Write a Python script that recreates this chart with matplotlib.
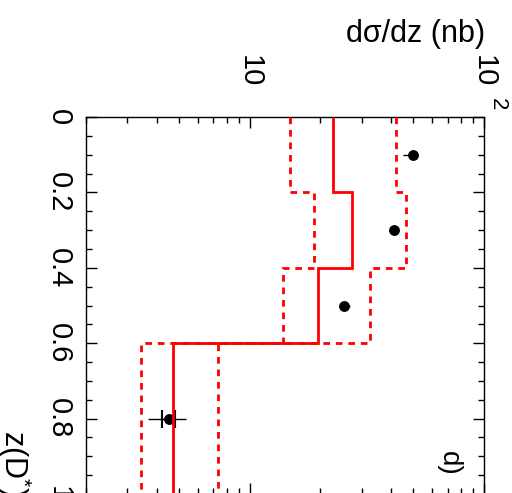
import matplotlib
matplotlib.use('Agg')
import matplotlib.pyplot as plt
from matplotlib.ticker import FixedLocator, LogLocator, NullFormatter, MultipleLocator

plt.rcParams['font.family'] = ['Liberation Sans', 'DejaVu Sans']
plt.rcParams['mathtext.fontset'] = 'custom'
plt.rcParams['mathtext.rm'] = 'Liberation Sans'
plt.rcParams['mathtext.it'] = 'Liberation Sans:italic'

# bins in z(D*)
z_edges = [0.0, 0.2, 0.4, 0.6, 1.0]
theory = [22.6, 27.3, 19.6, 4.7]
theory_lo = [14.9, 18.8, 13.8, 3.44]
theory_hi = [42.1, 46.6, 32.7, 7.33]

# measured points
z_data = [0.1, 0.3, 0.5, 0.8]
xsec = [49.6, 41.4, 25.2, 4.51]
tot_lo = [4.7, 1.0, 1.0, 0.83]
tot_hi = [1.4, 1.0, 1.6, 0.82]
stat_lo = [1.2, 0.8, 0.6, 0.28]
stat_hi = [1.2, 0.8, 0.6, 0.29]

z_ticks = [0, 0.2, 0.4, 0.6, 0.8, 1.0]
z_tick_labels = ['0', '0.2', '0.4', '0.6', '0.8', '1']

fig = plt.figure(figsize=(5.12, 4.93), dpi=100)
ax = fig.add_axes([86 / 512, -1 / 493, 398 / 512, 377 / 493])

ax.set_xscale('log')
ax.set_xlim(2, 100)
ax.set_ylim(1, 0)

# histograms drawn sideways: cross section along x, z along y
ax.stairs(theory, z_edges, orientation='horizontal', baseline=None,
          color='red', lw=2, zorder=3)
dash = (0, (2.4, 2.1))
ax.stairs(theory_lo, z_edges, orientation='horizontal', baseline=None,
          color='red', lw=2, ls=dash, zorder=3)
ax.stairs(theory_hi, z_edges, orientation='horizontal', baseline=None,
          color='red', lw=2, ls=dash, zorder=3)

ax.errorbar(xsec, z_data, xerr=[tot_lo, tot_hi], fmt='o', color='black',
            ms=6.8, elinewidth=1, capsize=0, zorder=2)

# stat bars only where they reach past the marker
ms_px = 6.8 * 100 / 72 / 2
for xv, zv, lo, hi in zip(xsec, z_data, stat_lo, stat_hi):
    x_disp = ax.transData.transform([(xv - lo, zv), (xv, zv), (xv + hi, zv)])[:, 0]
    if min(x_disp[1] - x_disp[0], x_disp[2] - x_disp[1]) > ms_px:
        ax.errorbar([xv], [zv], xerr=[[lo], [hi]], fmt='none', ecolor='black',
                    elinewidth=1, capsize=6.7, capthick=1.5, zorder=2)

ax.set_xlim(2, 100)
ax.set_ylim(1, 0)

ax.xaxis.set_major_locator(FixedLocator([10, 100]))
ax.xaxis.set_minor_locator(LogLocator(base=10, subs=range(2, 10)))
ax.xaxis.set_major_formatter(NullFormatter())
ax.xaxis.set_minor_formatter(NullFormatter())

ax.set_yticks(z_ticks, labels=z_tick_labels)
ax.yaxis.set_minor_locator(MultipleLocator(0.05))

ax.tick_params(which='both', direction='in', top=True, bottom=True,
               left=True, right=True, width=1, color='black')
ax.tick_params(which='major', length=8)
ax.tick_params(which='minor', length=4.3)
ax.tick_params(axis='y', labelsize=21, labelrotation=-90, pad=9.4)
for lab in ax.get_yticklabels():
    lab.set_va('center')

for sp in ax.spines.values():
    sp.set_linewidth(1)

# log axis labels
ax.annotate('10', xy=(10, 1), xycoords=('data', 'axes fraction'),
            xytext=(0, 21.6), textcoords='offset points', rotation=-90,
            ha='center', va='bottom', fontsize=21, annotation_clip=False)
ax.annotate('10', xy=(100, 1), xycoords=('data', 'axes fraction'),
            xytext=(0, 21.6), textcoords='offset points', rotation=-90,
            ha='center', va='bottom', fontsize=21, annotation_clip=False)
ax.annotate('2', xy=(100, 1), xycoords=('data', 'axes fraction'),
            xytext=(9.4, 5), textcoords='offset points', rotation=-90,
            ha='center', va='bottom', fontsize=16, annotation_clip=False)

fig.text(485 / 512, 1 - 19 / 493, 'd\u03c3/dz (nb)', ha='right', va='top',
         fontsize=22)
fig.text(33 / 512, 1 - 430 / 493, 'z(D$^{*}$)', rotation=-90, ha='right',
         va='top', fontsize=22)
fig.text(449 / 512, 1 - 463 / 493, 'd)', rotation=-90, ha='center',
         va='center', fontsize=20)

fig.savefig('out.png', dpi=100)
